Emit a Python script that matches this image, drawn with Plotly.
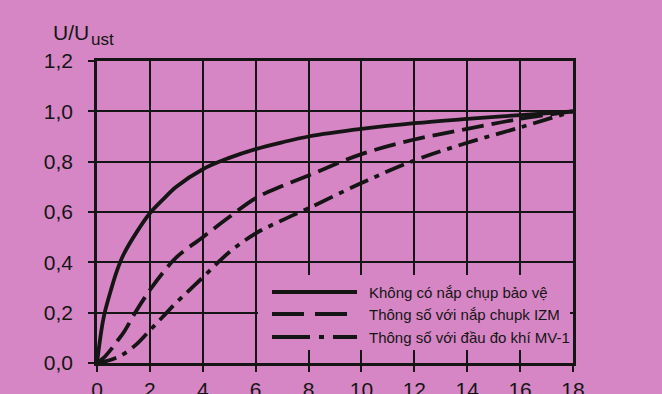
import plotly.graph_objects as go

# ---- data ----
x_vals = [0, 0.25, 0.5, 0.75, 1, 1.5, 2, 2.5, 3, 4, 5, 6, 7, 8, 10, 12, 14, 16, 18]
solid_vals = [0, 0.18, 0.28, 0.365, 0.43, 0.52, 0.595, 0.65, 0.70, 0.77, 0.815, 0.85, 0.877, 0.90, 0.93, 0.953, 0.97, 0.985, 1.0]
dashed_vals = [0, 0.02, 0.05, 0.085, 0.12, 0.21, 0.29, 0.36, 0.42, 0.50, 0.58, 0.655, 0.703, 0.745, 0.83, 0.888, 0.93, 0.97, 1.0]
dashdot_vals = [0, 0.005, 0.012, 0.022, 0.035, 0.075, 0.13, 0.185, 0.24, 0.34, 0.44, 0.515, 0.567, 0.615, 0.715, 0.805, 0.875, 0.936, 1.0]
series_names = ["Không có nắp chụp bảo vệ", "Thông số với nắp chupk IZM", "Thông số với đầu đo khí MV-1"]
x_ticks = [0, 2, 4, 6, 8, 10, 12, 14, 16, 18]
y_ticks = [0.0, 0.2, 0.4, 0.6, 0.8, 1.0, 1.2]

BG = "#d686c4"
INK = "#151515"
FONT = "Liberation Sans, Arial, sans-serif"

curve_dash = ["solid", "22px,8px", "20px,7px,5px,7px"]
legend_dash = ["solid", "32px,11px", "38px,9px,5px,9px"]
series = [solid_vals, dashed_vals, dashdot_vals]

fig = go.Figure()
for vals, name, dash in zip(series, series_names, curve_dash):
    fig.add_trace(go.Scatter(
        x=x_vals, y=vals, mode="lines", name=name,
        line=dict(color=INK, width=3.8, dash=dash, shape="spline", smoothing=1.0),
        showlegend=False,
    ))

L, R, T, B = 97, 89, 61, 31
W, H = 662, 394
pw, ph = W - L - R, H - T - B

def px_x(p):
    return (p - L) / pw

def px_y(p):
    return (H - B - p) / ph

shapes = [
    # legend box covering grid
    dict(type="rect", xref="paper", yref="paper", x0=px_x(258), x1=px_x(570),
         y0=px_y(350), y1=px_y(275), fillcolor=BG, line=dict(width=0), layer="above"),
]
annotations = []
rows = [292, 314, 337]
for name, dash, ry in zip(series_names, legend_dash, rows):
    shapes.append(dict(type="line", xref="paper", yref="paper",
                       x0=px_x(272), x1=px_x(357), y0=px_y(ry), y1=px_y(ry),
                       line=dict(color=INK, width=3.8, dash=dash), layer="above"))
    annotations.append(dict(xref="paper", yref="paper", x=px_x(367), y=px_y(ry),
                            xanchor="left", yanchor="middle", showarrow=False,
                            text=name, font=dict(family=FONT, size=15, color=INK)))

# axis title U/U_ust
annotations.append(dict(xref="paper", yref="paper", x=px_x(51), y=px_y(33),
                        xanchor="left", yanchor="middle", showarrow=False,
                        text="U/U", font=dict(family=FONT, size=21, color=INK)))
annotations.append(dict(xref="paper", yref="paper", x=px_x(89), y=px_y(39),
                        xanchor="left", yanchor="middle", showarrow=False,
                        text="ust", font=dict(family=FONT, size=17, color=INK)))

axis_common = dict(
    showgrid=True, gridcolor=INK, gridwidth=2.4,
    showline=True, linecolor=INK, linewidth=2.6, mirror=True,
    ticks="outside", ticklen=6, tickwidth=2.4, tickcolor=INK,
    zeroline=False, automargin=False,
    tickfont=dict(family=FONT, size=21, color=INK),
)

fig.update_layout(
    width=W, height=H,
    margin=dict(l=L, r=R, t=T, b=B),
    paper_bgcolor=BG, plot_bgcolor=BG,
    separators=",.",
    xaxis=dict(range=[0, 18], tickvals=x_ticks, ticklabelstandoff=0, **axis_common),
    yaxis=dict(range=[0, 1.2], tickvals=y_ticks, tickformat=".1f", ticklabelstandoff=11, **axis_common),
    shapes=shapes,
    annotations=annotations,
    showlegend=False,
)

fig.write_html(
    "out.html",
    config={"displayModeBar": False},
    post_script="document.body.style.margin='0px';document.body.style.background='%s';" % BG,
)
